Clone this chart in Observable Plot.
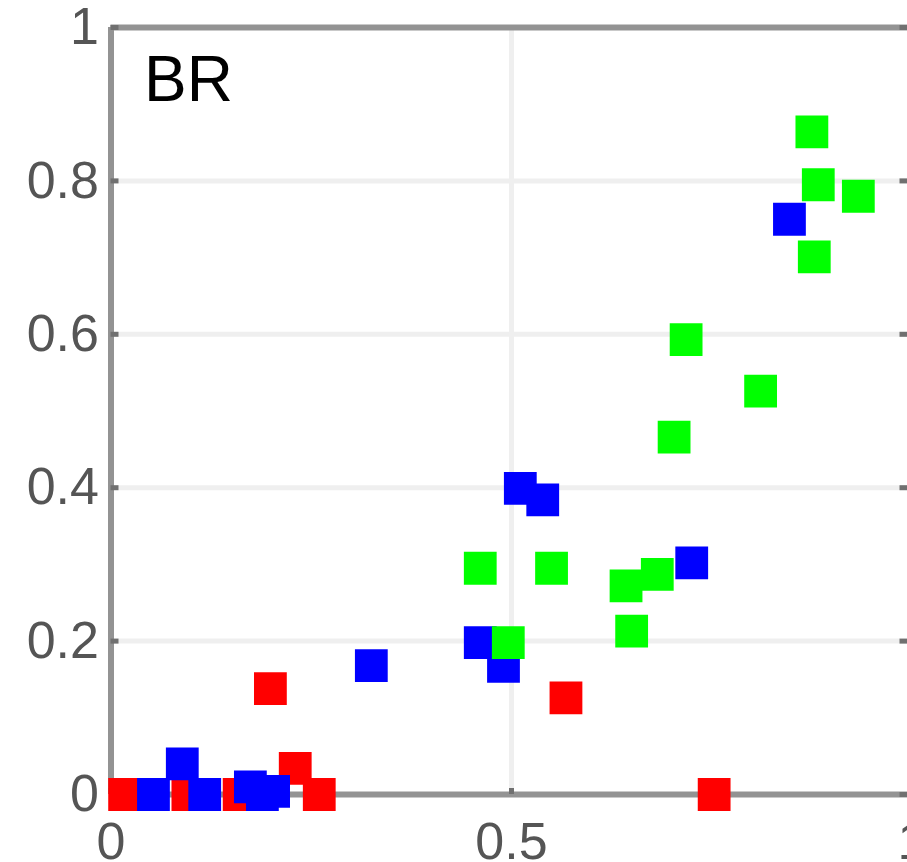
<!DOCTYPE html>
<html>
<head>
<meta charset="utf-8">
<script src="https://cdn.jsdelivr.net/npm/d3@7"></script>
<script src="https://cdn.jsdelivr.net/npm/@observablehq/plot@0.6"></script>
<style>
  html, body { margin: 0; padding: 0; background: #fff; overflow: hidden; }
  #chart { width: 907px; height: 862px; overflow: hidden; }
</style>
</head>
<body>
<div id="chart"></div>
<script>
// Panel title
const panelTitle = "BR";

// Tick values
const xTicks = [0, 0.5, 1];
const yTicks = [0, 0.2, 0.4, 0.6, 0.8, 1];
const xGrid = [0.5];
const yGrid = [0.2, 0.4, 0.6, 0.8];

// Red series
const redX = [0.017, 0.096, 0.160, 0.199, 0.230, 0.260, 0.568, 0.753];
const redY = [0.000, 0.000, 0.000, 0.138, 0.034, 0.000, 0.126, 0.000];

// Blue series
const blueX = [0.053, 0.089, 0.117, 0.174, 0.189, 0.203, 0.325, 0.461, 0.490, 0.511, 0.539, 0.725, 0.847];
const blueY = [0.000, 0.040, 0.000, 0.010, 0.000, 0.004, 0.168, 0.198, 0.167, 0.399, 0.384, 0.302, 0.750];

// Green series
const greenX = [0.461, 0.496, 0.550, 0.643, 0.650, 0.682, 0.703, 0.718, 0.811, 0.875, 0.878, 0.883, 0.933];
const greenY = [0.295, 0.198, 0.295, 0.272, 0.213, 0.287, 0.466, 0.593, 0.526, 0.864, 0.701, 0.795, 0.780];

const toRows = (xs, ys) => xs.map((x, i) => ({x, y: ys[i]}));
const red = toRows(redX, redY);
const blue = toRows(blueX, blueY);
const green = toRows(greenX, greenY);

const spine = "#939393";
const labelColor = "#555555";
const fmt = d => String(d);
const markerR = 18.5;

const chart = Plot.plot({
  width: 907,
  height: 862,
  marginLeft: 110.5,
  marginTop: 27,
  marginBottom: 68,
  marginRight: 0,
  x: {domain: [0, 1], range: [110.5, 911.5], label: null},
  y: {domain: [0, 1], range: [794, 27], label: null},
  style: {fontFamily: "'Liberation Sans', Arial, Helvetica, sans-serif", background: "white", overflow: "hidden"},
  marks: [
    Plot.gridX(xGrid, {stroke: "#efefef", strokeOpacity: 1, strokeWidth: 5}),
    Plot.gridY(yGrid, {stroke: "#efefef", strokeOpacity: 1, strokeWidth: 5}),
    Plot.ruleX([0, 1], {stroke: spine, strokeWidth: 6}),
    Plot.ruleY([0, 1], {stroke: spine, strokeWidth: 6}),
    Plot.axisY(yTicks, {tickSize: -8, text: null, stroke: "#707070", strokeWidth: 5, label: null}),
    Plot.axisY(yTicks, {anchor: "right", dx: 4.5, tickSize: -13, text: null, stroke: "#707070", strokeWidth: 5, label: null}),
    Plot.axisX(xTicks, {tickSize: -6, text: null, stroke: "#707070", strokeWidth: 5, label: null}),
    Plot.axisY(yTicks, {tickSize: 0, tickPadding: 12, tickFormat: fmt, fontSize: 52, fill: labelColor, label: null}),
    Plot.axisX(xTicks, {tickSize: 0, tickPadding: 28, tickFormat: fmt, fontSize: 52, fill: labelColor, label: null}),
    Plot.dot(red, {x: "x", y: "y", symbol: "square", r: markerR, fill: "#ff0000", stroke: "none"}),
    Plot.dot(blue, {x: "x", y: "y", symbol: "square", r: markerR, fill: "#0000ff", stroke: "none"}),
    Plot.dot(green, {x: "x", y: "y", symbol: "square", r: markerR, fill: "#00ff00", stroke: "none"}),
    Plot.text([panelTitle], {frameAnchor: "top-left", dx: 33, dy: 28, lineAnchor: "top", textAnchor: "start", fontSize: 64, fill: "#000"})
  ]
});
document.getElementById("chart").append(chart);
</script>
</body>
</html>
